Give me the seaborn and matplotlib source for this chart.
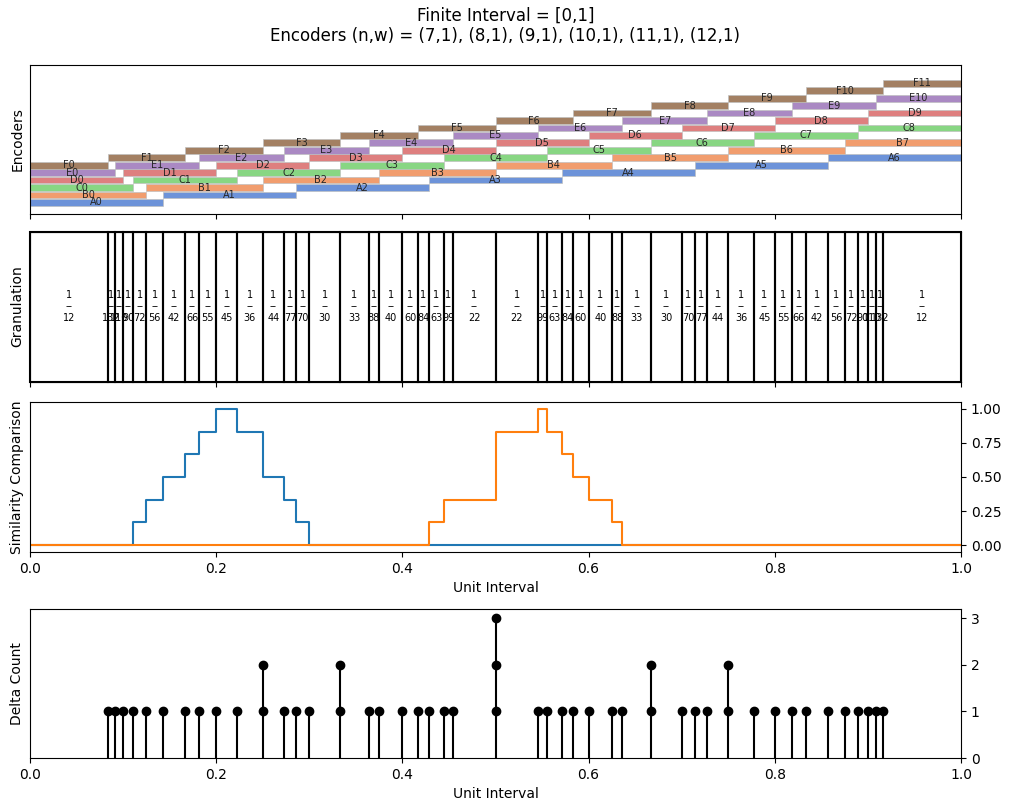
import matplotlib
matplotlib.use("Agg")
import matplotlib.pyplot as plt
import seaborn as sns

# --- data ---
enc_names = ["A", "B", "C", "D", "E", "F"]
enc_sizes = [7, 8, 9, 10, 11, 12]

# interior breakpoints of all encoders (sorted) and how many encoders share each
breakpoints = [1/12, 1/11, 1/10, 1/9, 1/8, 1/7, 1/6, 2/11, 1/5, 2/9, 1/4, 3/11,
               2/7, 3/10, 1/3, 4/11, 3/8, 2/5, 5/12, 3/7, 4/9, 5/11, 1/2,
               6/11, 5/9, 4/7, 7/12, 3/5, 5/8, 7/11, 2/3, 7/10, 5/7, 8/11,
               3/4, 7/9, 4/5, 9/11, 5/6, 6/7, 7/8, 8/9, 9/10, 10/11, 11/12]
delta_counts = [1, 1, 1, 1, 1, 1, 1, 1, 1, 1, 2, 1, 1, 1, 2, 1, 1, 1, 1, 1, 1, 1, 3,
                1, 1, 1, 1, 1, 1, 1, 2, 1, 1, 1, 2, 1, 1, 1, 1, 1, 1, 1, 1, 1, 1]
# width of each granule written as 1/d
gran_denoms = [12, 132, 110, 90, 72, 56, 42, 66, 55, 45, 36, 44, 77, 70, 30, 33,
               88, 40, 60, 84, 63, 99, 22, 22, 99, 63, 84, 60, 40, 88, 33, 30,
               70, 77, 44, 36, 45, 55, 66, 42, 56, 72, 90, 110, 132, 12]

# similarity step curves
blue_x = [0, 1/9, 1/8, 1/7, 1/6, 2/11, 1/5, 2/9, 1/4, 3/11, 2/7, 3/10, 1]
blue_y = [0, 1/6, 2/6, 3/6, 4/6, 5/6, 1, 5/6, 3/6, 2/6, 1/6, 0, 0]
orange_x = [0, 3/7, 4/9, 1/2, 6/11, 5/9, 4/7, 7/12, 3/5, 5/8, 7/11, 1]
orange_y = [0, 1/6, 2/6, 5/6, 1, 5/6, 4/6, 3/6, 2/6, 1/6, 0, 0]

# --- figure ---
W, H = 1011, 811
fig = plt.figure(figsize=(W / 100, H / 100), dpi=100)

def box(top, bottom):
    return [30 / W, 1 - bottom / H, 931 / W, (bottom - top) / H]

ax1 = fig.add_axes(box(65, 214))
ax2 = fig.add_axes(box(231.5, 381.5))
ax3 = fig.add_axes(box(402, 552))
ax4 = fig.add_axes(box(609, 758))

fig.suptitle("Finite Interval = [0,1]\nEncoders (n,w) = (7,1), (8,1), (9,1), (10,1), (11,1), (12,1)",
             fontsize=12, y=0.992)

# 1. encoders
pal = sns.color_palette("muted")
for j, (name, n) in enumerate(zip(enc_names, enc_sizes)):
    for i in range(n):
        level = i + j
        ax1.barh(level, 1 / n, left=i / n, height=0.9, color=pal[j], alpha=0.8,
                 edgecolor="0.75", linewidth=0.6)
        ax1.text((i + 0.5) / n, level, f"{name}{i}", ha="center", va="center",
                 fontsize=7, color="0.15")
ax1.set_xlim(0, 1)
ax1.set_ylim(-1.55, 18.45)
ax1.set_yticks([])
ax1.set_xticklabels([])
ax1.set_ylabel("Encoders")

# 2. granulation
edges = [0] + breakpoints + [1]
for k, d in enumerate(gran_denoms):
    left, right = edges[k], edges[k + 1]
    ax2.bar(left, 1, width=right - left, align="edge", fill=False,
            edgecolor="black", linewidth=1.5, clip_on=False)
    ax2.text((left + right) / 2, 0.5, f"1\n--\n{d}", ha="center", va="center",
             fontsize=7)
ax2.set_xlim(0, 1)
ax2.set_ylim(0, 1)
ax2.set_yticks([])
ax2.set_xticklabels([])
ax2.set_ylabel("Granulation")

# 3. similarity
sns.lineplot(x=blue_x, y=blue_y, drawstyle="steps-post", color="tab:blue", lw=1.5, ax=ax3)
sns.lineplot(x=orange_x, y=orange_y, drawstyle="steps-post", color="tab:orange", lw=1.5, ax=ax3)
ax3.set_xlim(0, 1)
ax3.set_ylim(-0.05, 1.05)
ax3.yaxis.tick_right()
ax3.set_yticks([0, 0.25, 0.5, 0.75, 1.0])
ax3.set_xlabel("Unit Interval")
ax3.set_ylabel("Similarity Comparison")

# 4. delta count
ax4.vlines(breakpoints, 0, delta_counts, color="black", lw=1.5)
for x, c in zip(breakpoints, delta_counts):
    ax4.plot([x] * c, list(range(1, c + 1)), "o", color="black", ms=6)
ax4.set_xlim(0, 1)
ax4.set_ylim(0, 3.2)
ax4.yaxis.tick_right()
ax4.set_yticks([0, 1, 2, 3])
ax4.set_xlabel("Unit Interval")
ax4.set_ylabel("Delta Count")

fig.savefig("out.png", dpi=100)
